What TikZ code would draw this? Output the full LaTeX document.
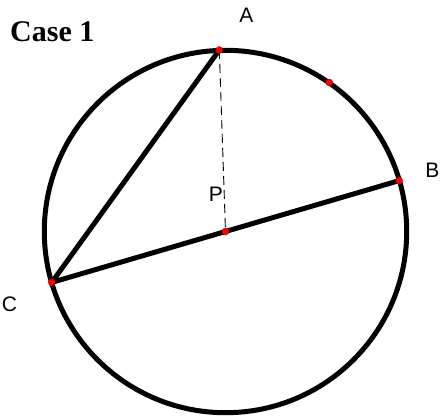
\documentclass[tikz,border=0pt]{standalone}
\usepackage{fontspec}
\setmainfont{Liberation Serif}
\newfontfamily\labfont{Liberation Sans}
\begin{document}
\begin{tikzpicture}[x=1pt,y=-1pt,
  thick line/.style={line width=5pt,line cap=round,line join=round},
  dot/.style={circle,inner sep=0pt,minimum size=7pt,fill=red,draw=red!75!black,line width=0.4pt},
  lab/.style={inner sep=0pt,font=\labfont\fontsize{21}{25}\selectfont},
  dashline/.style={line width=0.9pt,dash pattern=on 9pt off 5pt}]
\useasboundingbox (0,0) rectangle (440,418);
\coordinate (O) at (225.5,231.5);
\coordinate (A) at (219.3,50);
\coordinate (D) at (329.3,82.5);
\coordinate (B) at (399.2,180.6);
\coordinate (C) at (51.8,282.4);
\draw[thick line] (O) circle[radius=181.2];
\draw[dashline] (A) -- (O);
\draw[thick line] (A) -- (C) -- (B);
\node[dot] (dA) at (A) {};
\node[dot] (dD) at (D) {};
\node[dot] (dB) at (B) {};
\node[dot] (dC) at (C) {};
\node[dot] (dO) at (O) {};
\node[lab] (lA) at (246.3,15.3) {A};
\node[lab] (lB) at (432.5,170.5) {B};
\node[lab] (lC) at (9.5,304) {C};
\node[lab] (lP) at (216,194) {P};
\node[inner sep=0pt,anchor=base west,font=\bfseries\fontsize{30}{36}\selectfont] (title) at (10,41) {Case 1};
\end{tikzpicture}
\end{document}
